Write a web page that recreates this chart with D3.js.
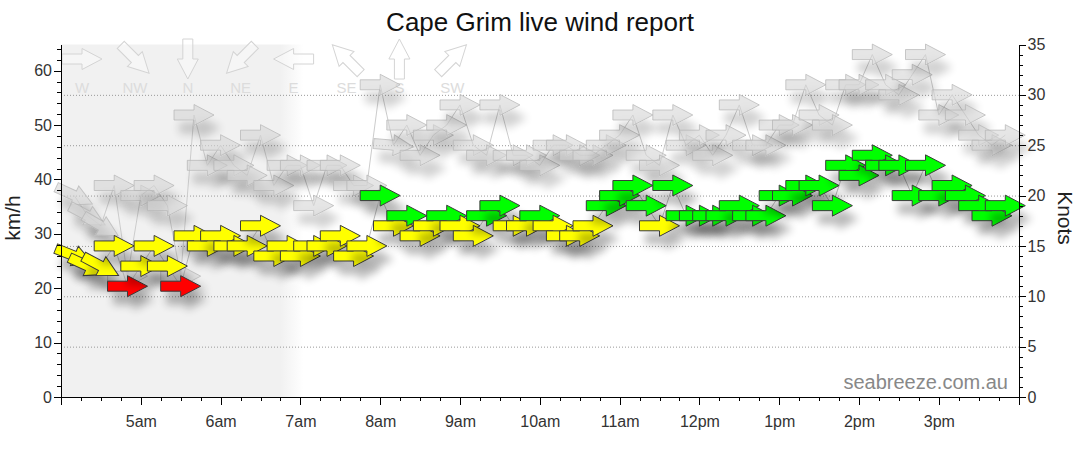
<!DOCTYPE html>
<html>
<head>
<meta charset="utf-8">
<title>Cape Grim live wind report</title>
<script src="https://cdn.jsdelivr.net/npm/d3@7"></script>
<style>
  body { margin: 0; background: #fff; }
  .wind_chart svg { display: block; font-family: "Liberation Sans", Arial, sans-serif; }
</style>
</head>
<body>
<div class="wind_chart"></div>
<script>
// 10 minute readings, one row per hour
var times = [
  "04:10", "04:20", "04:30", "04:40", "04:50",
  "05:00", "05:10", "05:20", "05:30", "05:40", "05:50",
  "06:00", "06:10", "06:20", "06:30", "06:40", "06:50",
  "07:00", "07:10", "07:20", "07:30", "07:40", "07:50",
  "08:00", "08:10", "08:20", "08:30", "08:40", "08:50",
  "09:00", "09:10", "09:20", "09:30", "09:40", "09:50",
  "10:00", "10:10", "10:20", "10:30", "10:40", "10:50",
  "11:00", "11:10", "11:20", "11:30", "11:40", "11:50",
  "12:00", "12:10", "12:20", "12:30", "12:40", "12:50",
  "13:00", "13:10", "13:20", "13:30", "13:40", "13:50",
  "14:00", "14:10", "14:20", "14:30", "14:40", "14:50",
  "15:00", "15:10", "15:20", "15:30", "15:40", "15:50"
];
var avgKnots = [
  14, 13, 13, 15, 11,
  13, 15, 13, 11, 16, 15,
  16, 15, 15, 17, 14, 15,
  14, 15, 15, 16, 14, 15,
  20, 17, 18, 16, 17, 18,
  17, 16, 18, 19, 17, 17,
  18, 17, 16, 16, 17, 19,
  20, 21, 19, 17, 21, 18,
  18, 18, 18, 19, 18, 18,
  20, 20, 21, 21, 19, 23,
  22, 24, 23, 23, 20, 23,
  20, 21, 20, 19, 18, 19
];
var avgDir = [
  292, 295, 298, 270, 270,
  270, 270, 270, 270, 270, 270,
  270, 270, 270, 270, 270, 270,
  270, 270, 270, 270, 270, 270,
  270, 270, 270, 270, 270, 270,
  270, 270, 270, 270, 270, 270,
  270, 270, 270, 270, 270, 270,
  270, 270, 270, 270, 270, 270,
  270, 270, 270, 270, 270, 270,
  270, 270, 270, 270, 270, 270,
  270, 270, 270, 270, 270, 270,
  270, 270, 270, 270, 270, 270
];
var gustKnots = [
  20, 18, 17, 21, 12,
  20, 21, 19, 12, 28, 23,
  25, 23, 22, 26, 21, 23,
  23, 19, 23, 23, 21, 21,
  31, 25, 27, 24, 26, 27,
  29, 25, 24, 29, 24, 24,
  23, 25, 25, 24, 24, 25,
  26, 28, 24, 23, 28, 25,
  26, 24, 26, 29, 25, 25,
  27, 27, 31, 28, 27, 31,
  31, 34, 31, 30, 32, 34,
  28, 30, 28, 26, 25, 26
];
var gustDir = [
  295, 298, 300, 270, 270,
  270, 270, 270, 270, 270, 270,
  270, 270, 270, 270, 270, 270,
  270, 270, 270, 270, 270, 270,
  270, 275, 270, 270, 270, 270,
  270, 270, 270, 270, 270, 270,
  270, 270, 270, 270, 270, 270,
  270, 270, 270, 270, 270, 270,
  270, 270, 270, 270, 270, 270,
  270, 270, 270, 270, 270, 270,
  270, 270, 270, 270, 270, 270,
  270, 270, 270, 270, 270, 270
];
var hourTicks = ["05:00", "06:00", "07:00", "08:00", "09:00", "10:00",
                 "11:00", "12:00", "13:00", "14:00", "15:00"];
var compassLabels = ["W", "NW", "N", "NE", "E", "SE", "S", "SW"];
var compassDirs = [270, 315, 0, 45, 90, 135, 180, 225];
var kmhTicks = [0, 10, 20, 30, 40, 50, 60];
var knotTicks = [0, 5, 10, 15, 20, 25, 30, 35];
var nightEnd = "07:00";

function render_chart() {
  var selector = ".wind_chart";
  var width = 1080,
    height = 464;
  var parse = d3.timeParse("%H:%M");
  var KMH_PER_KNOT = 1.852;

  var x = d3.scaleTime()
    .domain([parse("04:00"), parse("16:00")])
    .range([61, 1018.6]);
  var yKn = d3.scaleLinear().domain([0, 35]).range([397, 44.5]);
  var yKmh = d3.scaleLinear().domain([0, 35 * KMH_PER_KNOT]).range([397, 44.5]);

  var arrowPath = "M-20,-5H0V-10.5L20,0L0,10.5V5H-20Z";
  var colour = function (k) {
    return k < 12 ? "#ff0000" : k < 18 ? "#ffff00" : "#00ff00";
  };

  d3.select(selector).selectAll("*").remove();
  var svg = d3.select(selector)
    .append("svg")
    .attr("width", width)
    .attr("height", height);

  var defs = svg.append("defs");
  var grad = defs.append("linearGradient")
    .attr("id", "night")
    .attr("gradientUnits", "userSpaceOnUse")
    .attr("x1", x(parse(nightEnd)) - 20).attr("x2", x(parse(nightEnd)) + 3)
    .attr("y1", 0).attr("y2", 0);
  grad.append("stop").attr("offset", 0).attr("stop-color", "#f1f1f1");
  grad.append("stop").attr("offset", 1).attr("stop-color", "#f1f1f1").attr("stop-opacity", 0);

  function shadow(id, strength) {
    var f = defs.append("filter").attr("id", id)
      .attr("x", "-60%").attr("y", "-60%").attr("width", "220%").attr("height", "260%");
    f.append("feGaussianBlur").attr("in", "SourceAlpha").attr("stdDeviation", 4.5);
    f.append("feOffset").attr("dx", 6).attr("dy", 13).attr("result", "off");
    f.append("feComponentTransfer").attr("result", "soft")
      .append("feFuncA").attr("type", "linear").attr("slope", strength);
    var m = f.append("feMerge");
    m.append("feMergeNode").attr("in", "soft");
    m.append("feMergeNode").attr("in", "SourceGraphic");
  }
  shadow("shadowAvg", 0.28);
  shadow("shadowGust", 0.3);

  // night shading
  svg.append("rect")
    .attr("x", x.range()[0])
    .attr("y", yKn.range()[1])
    .attr("width", x(parse(nightEnd)) + 3 - x.range()[0])
    .attr("height", yKn.range()[0] - yKn.range()[1])
    .attr("fill", "url(#night)");

  // dotted grid at knot ticks
  svg.append("g").selectAll("line")
    .data(knotTicks.filter(function (k) { return k > 0 && k < 35; }))
    .enter().append("line")
    .attr("x1", x.range()[0]).attr("x2", x.range()[1])
    .attr("y1", function (d) { return yKn(d) + 0.5; })
    .attr("y2", function (d) { return yKn(d) + 0.5; })
    .style("stroke", "#999")
    .style("stroke-width", "1px")
    .style("stroke-dasharray", "1,2");

  // compass legend
  var legend = svg.append("g").selectAll("g")
    .data(compassLabels)
    .enter().append("g")
    .attr("transform", function (d, i) { return "translate(" + (82 + i * 52.9) + ",0)"; });
  legend.append("path")
    .attr("d", arrowPath)
    .attr("transform", function (d, i) { return "translate(0,59) rotate(" + (compassDirs[i] - 270) + ")"; })
    .style("fill", "#fff").style("fill-opacity", 0.35)
    .style("stroke", "#d4d4d4").style("stroke-width", "1px");
  legend.append("text")
    .attr("y", 93)
    .attr("text-anchor", "middle")
    .style("font-size", "15px")
    .style("fill", "#dcdcdc")
    .text(function (d) { return d; });

  var gust = times.map(function (t, i) {
    return { t: parse(t), k: gustKnots[i], dir: gustDir[i] };
  });
  var avg = times.map(function (t, i) {
    return { t: parse(t), k: avgKnots[i], dir: avgDir[i] };
  });
  var line = d3.line()
    .x(function (d) { return x(d.t); })
    .y(function (d) { return yKn(d.k); });

  // gusts (grey)
  svg.append("path").datum(gust)
    .attr("d", line)
    .style("fill", "none").style("stroke", "#ccc").style("stroke-width", "1px");
  var g1 = svg.append("g").selectAll("g")
    .data(gust).enter().append("g")
    .attr("transform", function (d) { return "translate(" + x(d.t) + "," + yKn(d.k) + ")"; })
    .attr("filter", "url(#shadowGust)");
  g1.append("path")
    .attr("d", arrowPath)
    .attr("transform", function (d) { return "rotate(" + (d.dir - 270) + ")"; })
    .style("fill", "#d6d6d6").style("fill-opacity", 0.6)
    .style("stroke", "#b4b4b4").style("stroke-opacity", 0.7).style("stroke-width", "1px");

  // average (coloured)
  svg.append("path").datum(avg)
    .attr("d", line)
    .style("fill", "none").style("stroke", "#bbb").style("stroke-width", "1px");
  var g2 = svg.append("g").selectAll("g")
    .data(avg).enter().append("g")
    .attr("transform", function (d) { return "translate(" + x(d.t) + "," + yKn(d.k) + ")"; })
    .attr("filter", "url(#shadowAvg)");
  g2.append("path")
    .attr("d", arrowPath)
    .attr("transform", function (d) { return "rotate(" + (d.dir - 270) + ")"; })
    .style("fill", function (d) { return colour(d.k); })
    .style("stroke", "#3a3a3a").style("stroke-width", "1px");

  // axes
  var fmt = d3.timeFormat("%-I%p");
  var xAxis = svg.append("g")
    .attr("class", "axis")
    .attr("transform", "translate(0," + yKn.range()[0] + ")")
    .call(d3.axisBottom(x)
      .tickValues(hourTicks.map(parse))
      .tickFormat(function (d) { return fmt(d).toLowerCase(); })
      .tickSize(8).tickSizeOuter(8).tickPadding(10));
  xAxis.selectAll("text").attr("dy", "0.71em").attr("y", 19);
  svg.append("g")
    .attr("transform", "translate(0," + yKn.range()[0] + ")")
    .call(d3.axisBottom(x)
      .tickValues(d3.timeMinute.every(15).range(parse("04:00"), parse("16:00")))
      .tickFormat("").tickSize(4).tickSizeOuter(0))
    .select(".domain").remove();

  svg.append("g")
    .attr("class", "axis")
    .attr("transform", "translate(" + x.range()[0] + ",0)")
    .call(d3.axisLeft(yKmh).tickValues(kmhTicks).tickSize(7).tickSizeOuter(0).tickPadding(2));
  svg.append("g")
    .attr("transform", "translate(" + x.range()[0] + ",0)")
    .call(d3.axisLeft(yKmh).tickValues(d3.range(0, 65, 2)).tickFormat("").tickSize(4).tickSizeOuter(0))
    .select(".domain").remove();

  svg.append("g")
    .attr("class", "axis")
    .attr("transform", "translate(" + x.range()[1] + ",0)")
    .call(d3.axisRight(yKn).tickValues(knotTicks).tickSize(7).tickSizeOuter(0).tickPadding(2));
  svg.append("g")
    .attr("transform", "translate(" + x.range()[1] + ",0)")
    .call(d3.axisRight(yKn).tickValues(d3.range(0, 36, 1)).tickFormat("").tickSize(4).tickSizeOuter(0))
    .select(".domain").remove();

  svg.selectAll(".axis text")
    .style("font-family", "'Liberation Sans', Arial, sans-serif")
    .style("font-size", "16px")
    .style("fill", "#333");
  svg.selectAll(".tick line, .domain").style("stroke", "#000").style("shape-rendering", "crispEdges");

  // titles
  svg.append("text")
    .attr("x", 540).attr("y", 31)
    .attr("text-anchor", "middle")
    .style("font-size", "26px").style("fill", "#111")
    .text("Cape Grim live wind report");
  svg.append("text")
    .attr("transform", "translate(20,218) rotate(-90)")
    .attr("text-anchor", "middle")
    .style("font-size", "21px").style("fill", "#222")
    .text("km/h");
  svg.append("text")
    .attr("transform", "translate(1058,218) rotate(90)")
    .attr("text-anchor", "middle")
    .style("font-size", "21px").style("fill", "#222")
    .text("Knots");
  svg.append("text")
    .attr("x", 1008).attr("y", 389)
    .attr("text-anchor", "end")
    .style("font-size", "20px").style("fill", "#888")
    .text("seabreeze.com.au");
}

render_chart();
</script>
</body>
</html>
